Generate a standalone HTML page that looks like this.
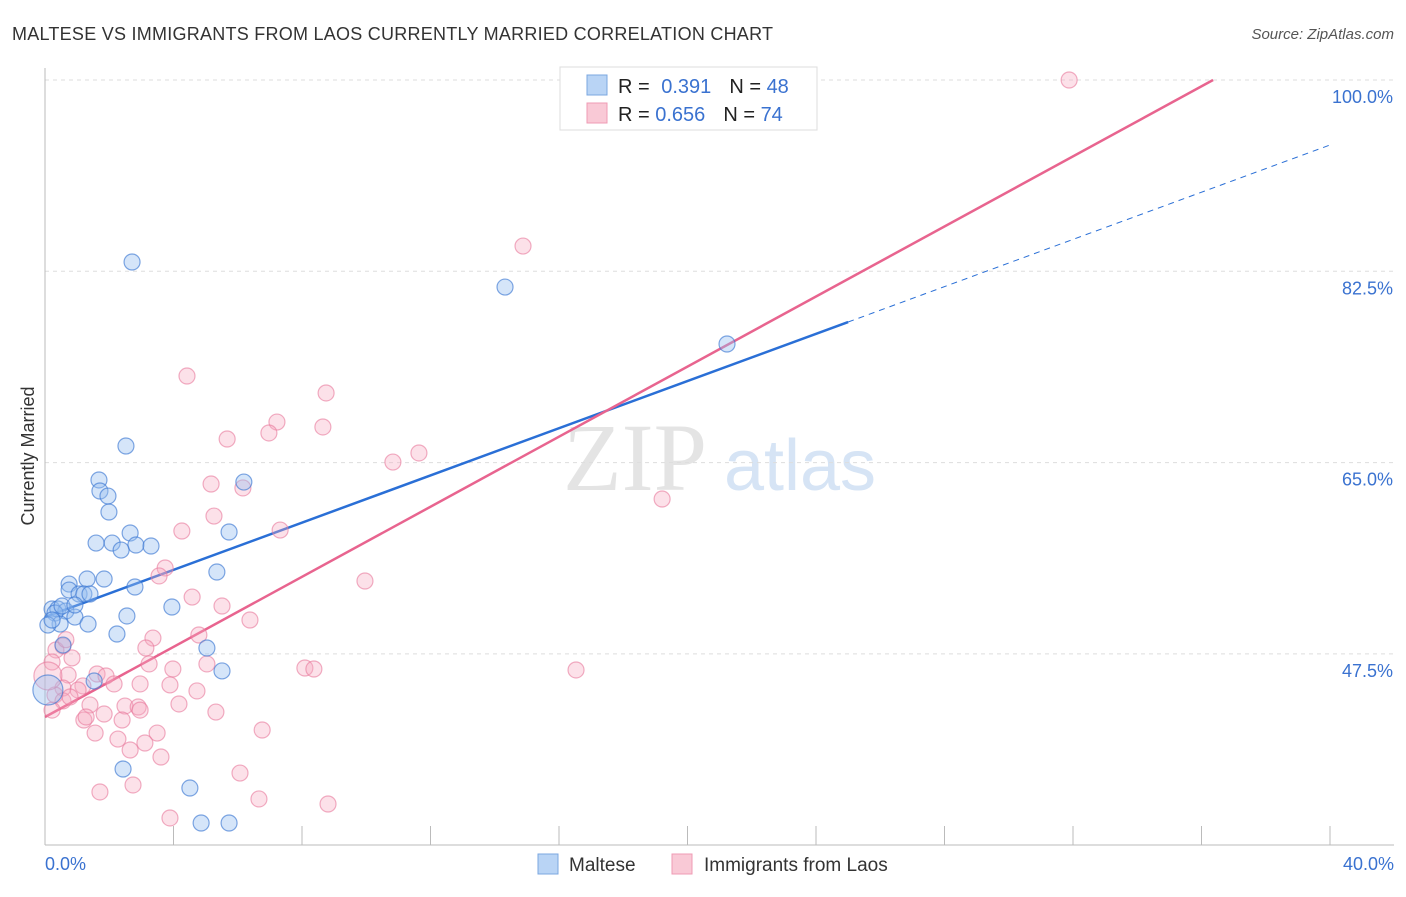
<!DOCTYPE html>
<html><head><meta charset="utf-8">
<style>
body{margin:0;background:#fff;font-family:"Liberation Sans",sans-serif;}
svg text{font-family:"Liberation Sans",sans-serif;}
</style></head>
<body>
<svg id="chart" width="1406" height="892" viewBox="0 0 1406 892" xmlns="http://www.w3.org/2000/svg">
<text x="12" y="40" font-size="18" fill="#333" textLength="761">MALTESE VS IMMIGRANTS FROM LAOS CURRENTLY MARRIED CORRELATION CHART</text>
<text x="1394" y="39" font-size="15" fill="#555" font-style="italic" text-anchor="end">Source: ZipAtlas.com</text>
<text x="34" y="456" font-size="18" fill="#333" text-anchor="middle" transform="rotate(-90 34 456)">Currently Married</text>
<g><text x="635" y="490" font-size="96" fill="#e4e4e4" text-anchor="middle" style="font-family:'Liberation Serif',serif">ZIP</text><text x="800" y="490" font-size="72" fill="#d6e4f5" text-anchor="middle">atlas</text></g>
<g id="grid"></g><g id="axes"></g><g id="lines"></g><g id="points"></g>
<g>
<rect x="560" y="67" width="257" height="63" fill="#fff" stroke="#ddd"/>
<rect x="587" y="75" width="20" height="20" fill="#b9d4f5" stroke="#7ba7e0"/>
<rect x="587" y="103" width="20" height="20" fill="#f9c9d6" stroke="#ef9bb4"/>
<text x="618" y="93" font-size="20" fill="#222">R = <tspan fill="#3a72d0" dx="6">0.391</tspan><tspan dx="18" fill="#222">N = </tspan><tspan fill="#3a72d0">48</tspan></text>
<text x="618" y="121" font-size="20" fill="#222">R = <tspan fill="#3a72d0">0.656</tspan><tspan dx="18" fill="#222">N = </tspan><tspan fill="#3a72d0">74</tspan></text>
</g>
<g>
<rect x="538" y="854" width="20" height="20" fill="#b9d4f5" stroke="#7ba7e0"/>
<text x="569" y="871" font-size="19" fill="#333">Maltese</text>
<rect x="672" y="854" width="20" height="20" fill="#f9c9d6" stroke="#ef9bb4"/>
<text x="704" y="871" font-size="19" fill="#333">Immigrants from Laos</text>
</g>
</svg>
<script>
const yTicks=[100,82.5,65,47.5];
const xTickLabels=["0.0%","40.0%"];
const blueX=[2.71,14.32,21.23,2.52,1.68,6.19,1.71,1.96,1.99,2.65,5.73,1.59,2.09,2.83,3.30,2.37,5.35,0.75,1.31,1.84,2.80,0.75,1.06,1.21,1.40,3.95,0.22,0.40,0.65,0.31,0.93,2.55,1.34,0.47,0.09,2.24,0.56,5.04,5.51,1.53,0.09,2.43,4.51,4.86,5.73,0.53,0.93,0.22];
const blueY=[83.35,81.06,75.85,66.52,63.41,63.22,62.40,61.94,60.48,58.56,58.65,57.64,57.64,57.46,57.37,57.00,54.99,53.89,54.35,54.35,53.62,53.34,52.98,52.98,52.98,51.79,51.61,51.61,51.42,51.24,50.87,50.97,50.23,50.23,50.14,49.32,48.31,48.04,45.94,45.02,44.20,36.97,35.23,32.03,32.03,51.88,51.97,50.6];
const pinkX=[31.88,14.88,4.42,8.75,7.22,8.65,5.67,6.97,11.64,10.83,5.17,6.16,19.21,5.26,4.26,7.32,3.74,3.55,9.96,4.58,5.51,6.38,3.36,4.79,3.14,0.56,0.34,0.84,3.24,5.04,8.09,8.37,16.53,3.98,0.22,1.62,1.90,0.72,2.15,2.96,3.89,1.18,4.73,0.56,0.31,1.40,2.49,2.90,4.17,2.96,5.32,1.84,2.40,1.21,6.76,1.56,3.49,2.27,3.11,2.65,3.61,6.07,1.71,2.74,6.66,8.81,3.89,0.09,0.56,0.22,1.03,1.28,0.65,0.78];
const pinkY=[100,84.81,72.92,71.37,68.71,68.26,67.16,67.71,65.88,65.05,63.04,62.68,61.67,60.11,58.74,58.83,55.36,54.63,54.17,52.70,51.88,50.60,48.95,49.23,48.04,48.22,47.86,47.13,46.58,46.58,46.21,46.12,46.03,46.12,46.76,45.66,45.48,45.57,44.75,44.75,44.66,44.57,44.11,44.38,43.74,42.83,42.73,42.64,42.92,42.36,42.18,42.00,41.45,41.45,40.54,40.26,40.26,39.71,39.35,38.71,38.07,36.60,34.87,35.51,34.23,33.77,32.49,45.48,43.2,42.36,44.2,41.73,48.8,43.56];
const blueTrend=[50.87,1.0796];
const pinkTrend=[41.73,1.6026];
const NS='http://www.w3.org/2000/svg';
const sx=v=>45+v/40*1285;
const sy=v=>80+(100-v)/17.5*191.3;
function mk(parent,tag,attrs){const e=document.createElementNS(NS,tag);for(const k in attrs)e.setAttribute(k,attrs[k]);document.getElementById(parent).appendChild(e);return e;}
yTicks.forEach(t=>{
 const g=mk('grid','line',{x1:45,x2:1394,y1:sy(t),y2:sy(t),stroke:'#ddd','stroke-dasharray':'4,4'});
 
 
 const l=mk('grid','text',{x:1393,y:sy(t)+23,'font-size':18,fill:'#3a72d0','text-anchor':'end'});
 l.textContent=t.toFixed(1)+'%';
 
 
});
mk('axes','line',{x1:45,x2:45,y1:68,y2:845,stroke:'#bbb'});
mk('axes','line',{x1:45,x2:1394,y1:845,y2:845,stroke:'#bbb'});
for(let i=0;i<=10;i++){const x=sx(i*4);const t=mk('axes','line',{x1:x,x2:x,y1:826,y2:845,stroke:'#bbb'});}
const xl0=mk('axes','text',{x:45,y:870,'font-size':18,fill:'#3a72d0'});xl0.textContent=xTickLabels[0];


const xl1=mk('axes','text',{x:1394,y:870,'font-size':18,fill:'#3a72d0','text-anchor':'end'});xl1.textContent=xTickLabels[1];


function pt(x,y,r,fill,stroke,name){const c=mk('points','circle',{cx:sx(x),cy:sy(y),r:r,fill:fill,stroke:stroke,'stroke-width':1.2});
 
 }
pinkX.forEach((x,i)=>pt(x,pinkY[i],(i==67?14:8),'rgba(246,170,192,0.35)','rgba(232,120,155,0.6)','laos-point'));
blueX.forEach((x,i)=>pt(x,blueY[i],(i==40?15:8),'rgba(150,190,240,0.4)','rgba(60,120,210,0.65)','maltese-point'));
const bx1=25;
const bl=mk('lines','line',{x1:sx(0),y1:sy(blueTrend[0]),x2:sx(bx1),y2:sy(blueTrend[0]+blueTrend[1]*bx1),stroke:'#2a6fd6','stroke-width':2.5});


const bd=mk('lines','line',{x1:sx(bx1),y1:sy(blueTrend[0]+blueTrend[1]*bx1),x2:sx(40),y2:sy(blueTrend[0]+blueTrend[1]*40),stroke:'#2a6fd6','stroke-width':1,'stroke-dasharray':'6,5'});


const px1=(100-pinkTrend[0])/pinkTrend[1];
const pl=mk('lines','line',{x1:sx(0),y1:sy(pinkTrend[0]),x2:sx(px1),y2:sy(100),stroke:'#e8648f','stroke-width':2.5});


</script>
</body></html>
